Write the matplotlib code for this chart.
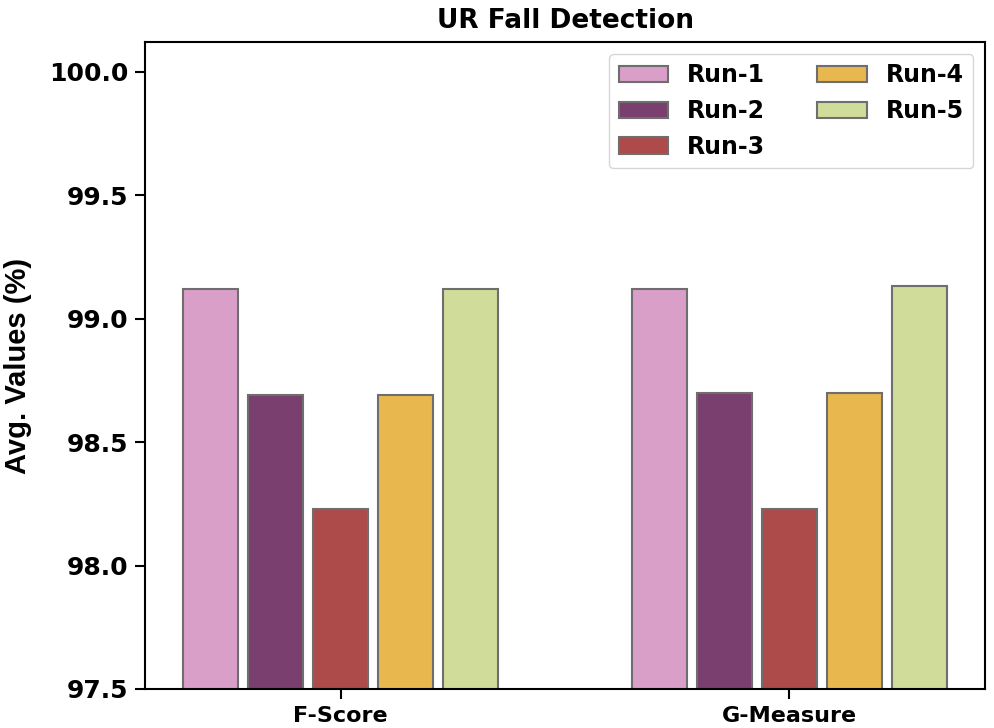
import numpy as np
import matplotlib
matplotlib.use("Agg")
import matplotlib.pyplot as plt

groups = ["F-Score", "G-Measure"]
runs = ["Run-1", "Run-2", "Run-3", "Run-4", "Run-5"]
run1 = [99.12, 99.12]
run2 = [98.69, 98.70]
run3 = [98.23, 98.23]
run4 = [98.69, 98.70]
run5 = [99.12, 99.13]
colors = ["#d99fc8", "#7b3f6f", "#ad4a4a", "#e8b84f", "#d0dc9a"]

plt.rcParams['font.family'] = ['DejaVu Sans']
fig = plt.figure(figsize=(9.95, 7.28), dpi=100)
ax = fig.add_axes([0.1457, 0.0536, 0.8443, 0.8887])

x = np.arange(len(groups))
pitch = 0.145
width = 0.122
for i, (name, vals) in enumerate(zip(runs, [run1, run2, run3, run4, run5])):
    ax.bar(x + (i - 2) * pitch, vals, width, color=colors[i], label=name,
           edgecolor="#6e6e6e", linewidth=1.5)

ax.set_ylim(97.5, 100.12)
ax.set_yticks([97.5, 98.0, 98.5, 99.0, 99.5, 100.0])
ax.set_yticklabels(["97.5", "98.0", "98.5", "99.0", "99.5", "100.0"],
                   fontsize=18, fontweight="bold")
ax.set_xticks(x)
ax.set_xticklabels(groups, fontsize=16, fontweight="bold")
ax.tick_params(axis="both", length=7, width=1.5, pad=5)
ax.set_ylabel("Avg. Values (%)", fontsize=21, fontweight="bold",
              family="Liberation Sans", labelpad=12)
ax.set_title("UR Fall Detection", fontsize=19, fontweight="bold", pad=10)
for s in ax.spines.values():
    s.set_linewidth(1.5)

leg = ax.legend(loc="upper right", ncol=2, prop={"size": 17, "weight": "bold"},
                borderaxespad=0.5, columnspacing=2.2, handlelength=2.1,
                labelspacing=0.5)
leg.get_frame().set_edgecolor("#cccccc")

fig.savefig("out.png", dpi=100)
